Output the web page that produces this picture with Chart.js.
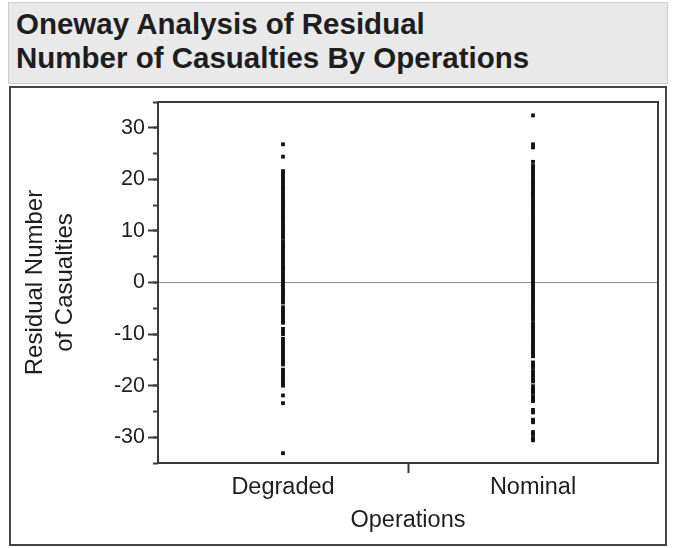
<!DOCTYPE html>
<html>
<head>
<meta charset="utf-8">
<script src="https://cdn.jsdelivr.net/npm/chart.js@4/dist/chart.umd.min.js"></script>
<style>
  html, body { margin: 0; padding: 0; background: #fff; }
  body { width: 673px; height: 548px; position: relative; overflow: hidden; font-family: "Liberation Sans", Arial, sans-serif; }
  #head {
    position: absolute; left: 8px; top: 2px; width: 660px; height: 82px; box-sizing: border-box;
    background: #e9e9e9; border: 1px solid #cdcdcd;
    font-weight: bold; font-size: 29.5px; line-height: 34px; color: #1e1e1e;
    padding: 4px 0 0 7px; white-space: nowrap;
  }
  #frame {
    position: absolute; left: 9px; top: 86px; width: 658px; height: 460px; box-sizing: border-box;
    border: 2px solid #444;
  }
  #wrap { position: absolute; left: 0; top: 0; width: 673px; height: 548px; }
</style>
</head>
<body>
<div id="head">Oneway Analysis of Residual<br>Number of Casualties By Operations</div>
<div id="frame"></div>
<div id="wrap"><canvas id="c" width="673" height="548"></canvas></div>
<script>
// Groups on the x axis
const categories = ['Degraded', 'Nominal'];

// Residual number of casualties per observation, by operations group
const degradedResiduals = [
  26.8, 24.4,
  21.6, 21.1, 20.5, 20.0, 19.6, 19.0, 18.5, 18.1, 17.6, 17.0, 16.5, 16.1, 15.6, 15.0,
  14.6, 14.1, 13.5, 13.0, 12.6, 12.1, 11.5, 11.0, 10.6, 10.1, 9.6, 9.1, 8.7,
  8.0, 7.5, 7.0, 6.6, 6.1, 5.5, 5.0, 4.6, 4.1, 3.5, 3.0, 2.6, 2.1, 1.5, 1.0, 0.6, 0.1,
  -0.4, -0.9, -1.4, -1.9, -2.4, -2.9, -3.4, -3.9, -4.8, -5.3, -5.8, -6.3, -6.8, -7.3, -7.8,
  -9.0, -9.5, -10.0, -10.9, -11.4, -11.9, -12.4, -12.9, -13.4, -13.9, -14.4, -14.9, -15.4, -15.9,
  -16.9, -17.4, -17.9, -18.4, -18.9, -19.4, -20.0,
  -21.9, -23.4,
  -33.1
];
const nominalResiduals = [
  32.4, 26.8, 26.2, 23.4,
  22.6, 22.1, 21.6, 21.1, 20.6, 20.0, 19.5, 19.1, 18.6, 18.0, 17.5, 17.1, 16.6, 16.0, 15.5, 15.0, 14.4,
  13.8, 13.3, 12.8, 12.3, 11.8, 11.3, 10.8, 10.3, 9.8, 9.3, 8.8, 8.3, 7.8, 7.3, 6.8, 6.3, 5.8, 5.3,
  4.8, 4.3, 3.8, 3.3, 2.8, 2.3, 1.8, 1.3, 0.8, 0.3, -0.2, -0.7, -1.2, -1.7, -2.2, -2.7, -3.2, -3.7,
  -4.2, -4.7, -5.2, -5.7, -6.2, -6.7, -7.2,
  -7.9, -8.4, -8.9, -9.4, -9.9, -10.4, -10.9, -11.4,
  -11.8, -12.3, -12.8, -13.3, -13.8, -14.3,
  -15.5, -16.0, -16.5, -17.2,
  -17.9, -18.4, -18.9, -19.2,
  -20.1, -20.6, -21.0, -21.4,
  -22.1, -22.6, -23.0,
  -24.7, -25.2,
  -26.6, -27.1,
  -29.0, -29.5,
  -30.2, -30.6
];

// Axis settings
const yMin = -35, yMax = 35;
const yMajorTicks = [-30, -20, -10, 0, 10, 20, 30];
const yMinorStep = 5;
const xTickValues = [0.5, 1, 1.5];
const xDividerValue = 1;

const groups = [degradedResiduals, nominalResiduals];
const ink = '#1e1e1e';
const axisColor = '#3a3a3a';
const font = '"Liberation Sans", Arial, sans-serif';

const datasets = groups.map((vals, i) => ({
  label: categories[i],
  data: vals.map(v => ({ x: i + 0.5, y: v })),
  pointStyle: 'rect',
  pointRadius: 2.7,
  pointHoverRadius: 2.7,
  pointBorderWidth: 0,
  backgroundColor: '#111111',
  borderColor: '#111111'
}));

// Closes the plot box on its top and right sides
const plotFrame = {
  id: 'plotFrame',
  afterDraw(chart) {
    const { ctx, chartArea: a } = chart;
    ctx.save();
    ctx.strokeStyle = axisColor;
    ctx.lineWidth = 2;
    ctx.beginPath();
    ctx.moveTo(a.left, a.top);
    ctx.lineTo(a.right, a.top);
    ctx.lineTo(a.right, a.bottom);
    ctx.stroke();
    ctx.restore();
  }
};

new Chart(document.getElementById('c'), {
  type: 'scatter',
  data: { datasets },
  plugins: [plotFrame],
  options: {
    responsive: false,
    animation: false,
    events: [],
    layout: { padding: { left: 10, top: 102, right: 15, bottom: 12 } },
    plugins: { legend: { display: false }, tooltip: { enabled: false } },
    scales: {
      x: {
        type: 'linear',
        min: 0, max: 2,
        afterBuildTicks: s => { s.ticks = xTickValues.map(v => ({ value: v })); },
        afterFit: s => { s.height = 548 - 12 - 463; },
        border: { display: true, color: axisColor, width: 2 },
        grid: {
          drawOnChartArea: false,
          tickLength: 10,
          tickWidth: 2,
          tickColor: c => (c.tick && c.tick.value === xDividerValue) ? axisColor : 'rgba(0,0,0,0)'
        },
        ticks: {
          autoSkip: false,
          maxRotation: 0,
          padding: 0,
          color: ink,
          font: { family: font, size: 23.5 },
          callback: v => (v % 1 === 0.5) ? categories[Math.floor(v)] : ''
        },
        title: {
          display: true,
          text: 'Operations',
          color: ink,
          font: { family: font, size: 23.5, lineHeight: 1.2 },
          padding: { top: 0, bottom: 1 }
        }
      },
      y: {
        weight: 1,
        position: 'left',
        min: yMin, max: yMax,
        afterBuildTicks: s => { s.ticks = yMajorTicks.map(v => ({ value: v })); },
        afterFit: s => { s.width = 148; },
        border: { display: true, color: axisColor, width: 2 },
        grid: {
          drawOnChartArea: true,
          color: c => (c.tick && c.tick.value === 0) ? '#8a8a8a' : 'rgba(0,0,0,0)',
          lineWidth: 1,
          tickLength: 10,
          tickWidth: 2,
          tickColor: axisColor
        },
        ticks: {
          padding: 3,
          color: ink,
          font: { family: font, size: 21.5 }
        },
        title: {
          display: true,
          text: ['Residual Number', 'of Casualties'],
          color: ink,
          font: { family: font, size: 24, lineHeight: 1.22 },
          padding: { top: 11, bottom: 0 }
        }
      },
      yMinor: {
        weight: 0,
        position: 'left',
        min: yMin, max: yMax,
        afterFit: s => { s.width = 0; },
        border: { display: false },
        grid: {
          drawOnChartArea: false,
          tickLength: 5,
          tickWidth: 2,
          tickColor: axisColor
        },
        ticks: { stepSize: yMinorStep, display: false }
      }
    }
  }
});
</script>
</body>
</html>
